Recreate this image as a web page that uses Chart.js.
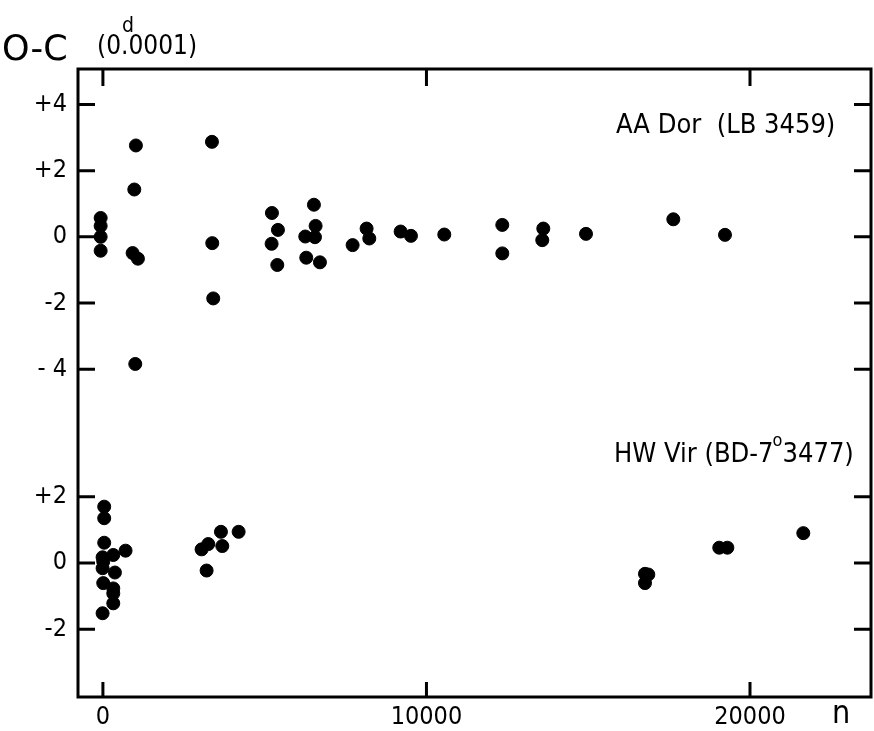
<!DOCTYPE html>
<html lang="en">
<head>
  <meta charset="UTF-8">
  <title>O-C AA Dor / HW Vir</title>
  <script src="https://cdn.jsdelivr.net/npm/chart.js"></script>
  <style>
    html, body { margin: 0; padding: 0; background: #fff; overflow: hidden; }
  </style>
</head>
<body>
  <canvas id="ocChart" width="874" height="731"></canvas>

  <script>
    // O-C residuals in units of 0.0001 d, cycle number n
    const aaDorN = [-70, -70, -70, -70, 1020, 970, 918, 1082, 1000, 3370, 3380, 3410,
                    5224, 5410, 5214, 5390, 6522, 6574, 6254, 6553, 6285, 6708, 7718,
                    8150, 8233, 9202, 9521, 10551, 12344, 12344, 13611, 13580, 14931,
                    17630, 19227];
    const aaDorOC = [0.57, 0.33, 0.0, -0.42, 2.76, 1.43, -0.49, -0.66, -3.84, 2.87, -0.19, -1.86,
                     0.72, 0.21, -0.21, -0.85, 0.97, 0.33, 0.01, -0.01, -0.63, -0.77, -0.25,
                     0.25, -0.05, 0.16, 0.03, 0.07, 0.36, -0.5, 0.25, -0.1, 0.09,
                     0.53, 0.06];

    const hwVirN = [40, 40, 40, -10, 320, 700, 10, -10, 371, 10, 320, 320, 320, -10,
                    3050, 3256, 3205, 3648, 3690, 4195, 16754, 16754, 16857,
                    19050, 19300, 21648];
    const hwVirOC = [1.70, 1.35, 0.61, 0.17, 0.24, 0.37, 0.04, -0.16, -0.29, -0.61, -0.77, -0.92, -1.22, -1.52,
                     0.41, 0.57, -0.23, 0.94, 0.51, 0.94, -0.33, -0.61, -0.35,
                     0.46, 0.46, 0.90];

    // the lower panel shares the axis, shifted down by this many units
    const panelOffset = 9.85;
    const topTicks = [4, 2, 0, -2, -4];
    const bottomTicks = [2, 0, -2];
    const xTicks = [0, 10000, 20000];

    const FONT = '"DejaVu Sans Condensed", "Liberation Sans Narrow", "DejaVu Sans", sans-serif';

    const yTickValues = topTicks.concat(bottomTicks.map(v => v - panelOffset));
    const tickLabel = v => {
      const raw = v > -panelOffset / 2 ? v : Math.round((v + panelOffset) * 100) / 100;
      if (raw > 0) return '+' + raw;
      if (raw < 0) return (raw === -4 ? '- ' : '-') + Math.abs(raw);
      return '0';
    };

    const framePlugin = {
      id: 'frame',
      afterDraw(chart) {
        const { ctx, chartArea: a, scales: { x, y } } = chart;
        ctx.save();
        ctx.strokeStyle = '#000';
        ctx.lineWidth = 3;
        ctx.strokeRect(a.left, a.top, a.right - a.left, a.bottom - a.top);
        ctx.beginPath();
        yTickValues.forEach(v => {
          const py = y.getPixelForValue(v);
          ctx.moveTo(a.left, py); ctx.lineTo(a.left + 17, py);
          ctx.moveTo(a.right, py); ctx.lineTo(a.right - 17, py);
        });
        xTicks.forEach(v => {
          const px = x.getPixelForValue(v);
          ctx.moveTo(px, a.bottom); ctx.lineTo(px, a.bottom - 15);
          ctx.moveTo(px, a.top); ctx.lineTo(px, a.top + 17);
        });
        ctx.stroke();

        // labels
        ctx.fillStyle = '#000';
        ctx.textBaseline = 'alphabetic';
        ctx.textAlign = 'left';
        ctx.font = '35px "DejaVu Sans", sans-serif';
        ctx.fillText('O-C', 2, 60);
        ctx.font = '26px ' + FONT;
        ctx.fillText('(0.0001)', 97, 54);
        ctx.font = '21px ' + FONT;
        ctx.fillText('d', 122, 32);
        ctx.font = '32px ' + FONT;
        ctx.fillText('n', 832, 723);

        ctx.font = '27px ' + FONT;
        ctx.fillText('AA Dor  (LB 3459)', 616, 133);
        ctx.fillText('HW Vir (BD-7', 614, 462);
        const w = ctx.measureText('HW Vir (BD-7').width;
        ctx.font = '18px ' + FONT;
        ctx.fillText('o', 614 + w - 1, 446);
        ctx.font = '27px ' + FONT;
        ctx.fillText('3477)', 614 + w + 9, 462);
        ctx.restore();
      }
    };

    const dotStyle = {
      backgroundColor: '#000',
      borderColor: '#000',
      pointRadius: 6.5,
      pointHoverRadius: 6.5,
      showLine: false
    };

    new Chart(document.getElementById('ocChart'), {
      type: 'scatter',
      data: {
        datasets: [
          Object.assign({ label: 'AA Dor', data: aaDorN.map((n, i) => ({ x: n, y: aaDorOC[i] })) }, dotStyle),
          Object.assign({ label: 'HW Vir', data: hwVirN.map((n, i) => ({ x: n, y: hwVirOC[i] - panelOffset })) }, dotStyle)
        ]
      },
      options: {
        responsive: false,
        animation: false,
        layout: { autoPadding: false, padding: { top: 69, right: 3, left: 0, bottom: 0 } },
        plugins: {
          legend: { display: false },
          tooltip: { enabled: false },
          title: { display: false }
        },
        scales: {
          x: {
            type: 'linear',
            min: -770,
            max: 23740,
            afterBuildTicks: s => { s.ticks = xTicks.map(v => ({ value: v })); },
            afterFit: s => { s.height = 34; s.paddingLeft = 0; s.paddingRight = 0; },
            grid: { display: false, drawTicks: false },
            border: { display: false },
            ticks: {
              color: '#000',
              padding: 5,
              font: { family: FONT, size: 25 },
              callback: v => String(v)
            }
          },
          y: {
            type: 'linear',
            min: -13.9,
            max: 5.07,
            afterBuildTicks: s => { s.ticks = yTickValues.map(v => ({ value: v })); },
            afterFit: s => { s.width = 78; s.paddingTop = 0; s.paddingBottom = 0; },
            grid: { display: false, drawTicks: false },
            border: { display: false },
            ticks: {
              color: '#000',
              padding: 11,
              font: { family: FONT, size: 25 },
              callback: v => tickLabel(v)
            }
          }
        }
      },
      plugins: [framePlugin]
    });
  </script>
</body>
</html>
